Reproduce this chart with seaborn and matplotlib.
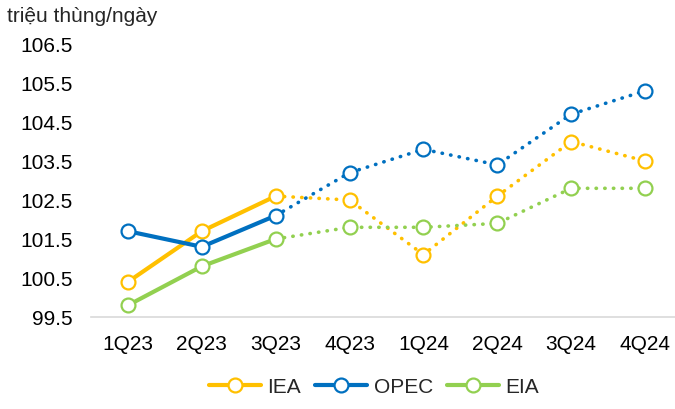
import numpy as np
import pandas as pd
import seaborn as sns
import matplotlib
matplotlib.use('Agg')
import matplotlib.pyplot as plt
from matplotlib.lines import Line2D

# dữ liệu
quarters = ['1Q23', '2Q23', '3Q23', '4Q23', '1Q24', '2Q24', '3Q24', '4Q24']
iea = [100.4, 101.7, 102.6, 102.5, 101.1, 102.6, 104.0, 103.5]
opec = [101.7, 101.3, 102.1, 103.2, 103.8, 103.4, 104.7, 105.3]
eia = [99.8, 100.8, 101.5, 101.8, 101.8, 101.9, 102.8, 102.8]
yticks = [99.5, 100.5, 101.5, 102.5, 103.5, 104.5, 105.5, 106.5]
n_actual = 3  # 1Q23..3Q23 là số thực tế, sau đó là dự báo

series = {'IEA': iea, 'OPEC': opec, 'EIA': eia}
colors = {'IEA': '#FFC000', 'OPEC': '#0070C0', 'EIA': '#92D050'}

sns.set_style('white')
plt.rcParams['font.family'] = ['Liberation Sans', 'DejaVu Sans']
fs = 15

fig = plt.figure(figsize=(6.75, 4.1), dpi=100)
ax = fig.add_axes([91 / 675, 92 / 410, 591 / 675, 273 / 410])

for name, vals in series.items():
    df = pd.DataFrame({'x': np.arange(len(quarters)), 'y': vals})
    c = colors[name]
    # phần thực tế: nét liền
    sns.lineplot(data=df.iloc[:n_actual], x='x', y='y', ax=ax, color=c,
                 linewidth=3, zorder=2)
    # phần dự báo: nét chấm
    sns.lineplot(data=df.iloc[n_actual - 1:], x='x', y='y', ax=ax, color=c,
                 linewidth=2.6, linestyle=(0, (0.1, 2.3)),
                 dash_capstyle='round', zorder=2)
    ax.plot(df['x'], df['y'], linestyle='none', marker='o', markersize=10,
            markerfacecolor='white', markeredgecolor=c, markeredgewidth=1.6,
            zorder=3)

ax.set_xlim(-0.5, len(quarters) - 0.5)
ax.set_ylim(99.5, 106.5)
ax.set_xticks(np.arange(len(quarters)))
ax.set_xticklabels(quarters)
ax.set_yticks(yticks)
ax.set_yticklabels([f'{v:.1f}' for v in yticks])
ax.set_xlabel('')
ax.set_ylabel('')
ax.tick_params(axis='both', length=0, labelsize=fs, colors='black')
ax.tick_params(axis='x', pad=12)
ax.tick_params(axis='y', pad=13)
for s in ['top', 'right', 'left']:
    ax.spines[s].set_visible(False)
ax.spines['bottom'].set_color('#D9D9D9')
ax.spines['bottom'].set_linewidth(1.2)
ax.grid(False)

fig.text(7 / 675, 1 - 16 / 410, 'triệu thùng/ngày', fontsize=fs, va='center', ha='left')

handles = [Line2D([0], [0], color=colors[k], linewidth=3, marker='o', markersize=10,
                  markerfacecolor='white', markeredgecolor=colors[k], markeredgewidth=1.6)
           for k in series]
fig.legend(handles, list(series.keys()), loc='center', bbox_to_anchor=(374 / 675, 1 - 388 / 410),
           ncol=3, frameon=False, fontsize=fs, handlelength=2.5, columnspacing=0.7,
           handletextpad=0.3)

fig.savefig('out.png', dpi=100)
